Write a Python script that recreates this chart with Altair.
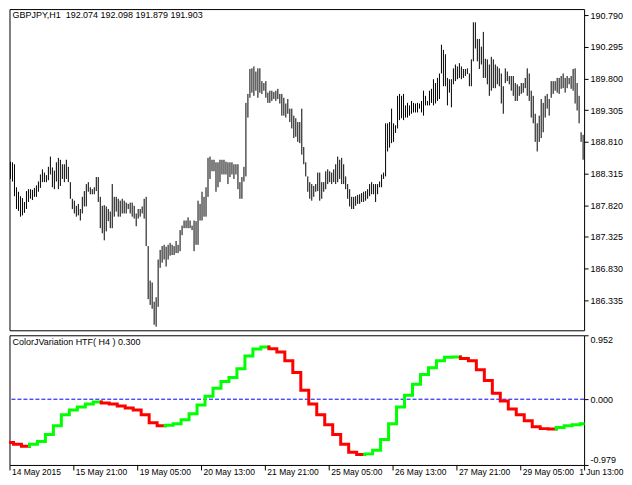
import altair as alt
import pandas as pd

header_text = "GBPJPY,H1\u00a0 192.074 192.098 191.879 191.903"
indicator_text = "ColorJVariation HTF( H4 ) 0.300"

date_labels = ["14 May 2015", "15 May 21:00", "19 May 05:00", "20 May 13:00", "21 May 21:00",
               "25 May 05:00", "26 May 13:00", "27 May 21:00", "29 May 05:00", "1 Jun 13:00"]

price_ticks = [186.335, 186.830, 187.325, 187.820, 188.315, 188.810, 189.305, 189.800, 190.295, 190.790]
price_domain = [185.863, 190.887]
ind_ticks = [-0.979, 0.000, 0.952]
ind_domain = [-0.979, 0.952]
zero_level = [0.0]

highs = [
    188.50, 188.49, 188.46, 188.10, 188.03, 187.96, 187.93, 187.87, 188.04, 188.07,
    188.07, 188.06, 188.09, 188.13, 188.19, 188.30, 188.38, 188.33, 188.29, 188.42,
    188.58, 188.41, 188.36, 188.49, 188.56, 188.53, 188.46, 188.46, 188.53, 188.42,
    188.18, 187.92, 187.89, 187.81, 187.84, 187.76, 187.95, 188.04, 188.15, 188.18,
    188.10, 188.07, 188.10, 188.26, 188.26, 187.95, 187.81, 187.82, 187.80, 187.76,
    187.72, 188.15, 187.95, 187.95, 187.92, 187.89, 187.92, 187.89, 187.86, 187.84,
    187.86, 187.86, 187.81, 187.69, 187.76, 187.76, 187.80, 187.92, 187.95, 187.18,
    186.64, 186.61, 186.31, 186.38, 186.97, 187.12, 187.18, 187.20, 187.17, 187.20,
    187.23, 187.20, 187.18, 187.26, 187.20, 187.43, 187.50, 187.58, 187.58, 187.63,
    187.58, 187.50, 187.58, 187.57, 187.89, 187.84, 188.03, 187.95, 188.10, 188.56,
    188.58, 188.53, 188.53, 188.49, 188.49, 188.53, 188.53, 188.53, 188.50, 188.49,
    188.49, 188.49, 188.46, 188.46, 188.46, 188.18, 188.26, 188.42, 189.42, 189.56,
    189.95, 189.96, 189.99, 189.91, 189.96, 189.96, 189.76, 189.73, 189.76, 189.58,
    189.61, 189.61, 189.59, 189.61, 189.64, 189.56, 189.56, 189.50, 189.41, 189.48,
    189.33, 189.33, 189.22, 189.18, 189.12, 189.12, 189.33, 188.73, 188.49, 188.27,
    188.18, 188.15, 188.12, 188.15, 188.33, 188.33, 188.18, 188.18, 188.35, 188.38,
    188.35, 188.33, 188.38, 188.46, 188.58, 188.53, 188.56, 188.46, 188.27, 188.15,
    188.07, 187.95, 187.95, 187.96, 187.98, 187.99, 188.01, 188.03, 188.04, 188.07,
    188.15, 188.18, 188.15, 188.15, 188.15, 188.19, 188.30, 188.33, 189.10, 189.10,
    189.12, 189.33, 189.10, 189.07, 189.53, 189.56, 189.53, 189.56, 189.38, 189.42,
    189.38, 189.45, 189.42, 189.41, 189.42, 189.41, 189.45, 189.61, 189.53, 189.45,
    189.61, 189.64, 189.79, 189.73, 189.81, 189.88, 190.33, 190.25, 190.18, 189.81,
    189.79, 189.79, 189.96, 190.02, 189.99, 190.04, 189.99, 189.95, 189.95, 189.96,
    189.88, 190.10, 190.68, 190.68, 190.42, 190.42, 190.30, 190.53, 190.11, 190.10,
    190.02, 190.14, 190.10, 190.02, 189.99, 189.96, 189.88, 189.68, 189.96, 189.91,
    189.84, 189.84, 189.84, 189.73, 189.71, 189.68, 189.73, 189.73, 189.81, 189.96,
    189.88, 189.61, 189.53, 189.25, 189.10, 189.22, 189.48, 189.42, 189.53, 189.56,
    189.48, 189.76, 189.76, 189.76, 189.81, 189.81, 189.84, 189.88, 189.81, 189.84,
    189.81, 189.84, 189.95, 189.96, 189.73, 189.53, 188.96, 188.92,
]

lows = [
    188.23, 188.19, 187.96, 187.76, 187.73, 187.64, 187.66, 187.70, 187.76, 187.87,
    187.92, 187.90, 187.95, 187.95, 188.03, 188.09, 188.18, 188.18, 188.18, 188.21,
    188.30, 188.10, 188.07, 188.19, 188.07, 188.12, 188.23, 188.18, 188.23, 188.18,
    187.92, 187.76, 187.69, 187.64, 187.66, 187.58, 187.69, 187.80, 187.80, 188.03,
    187.99, 187.99, 187.99, 188.04, 187.87, 187.46, 187.38, 187.27, 187.41, 187.57,
    187.46, 187.46, 187.64, 187.72, 187.64, 187.64, 187.69, 187.69, 187.69, 187.76,
    187.69, 187.64, 187.61, 187.49, 187.61, 187.64, 187.69, 187.61, 187.18, 186.35,
    186.26, 186.20, 185.95, 185.92, 186.23, 186.84, 186.92, 186.97, 186.86, 186.97,
    187.03, 187.04, 187.04, 187.07, 187.07, 187.10, 187.35, 187.46, 187.46, 187.46,
    187.46, 187.43, 187.10, 187.20, 187.20, 187.58, 187.58, 187.64, 187.64, 187.95,
    188.23, 188.35, 188.35, 188.03, 188.10, 188.18, 188.30, 188.30, 188.30, 188.15,
    188.26, 188.30, 188.23, 188.30, 188.07, 187.92, 187.92, 188.19, 188.27, 189.19,
    189.50, 189.58, 189.53, 189.61, 189.50, 189.58, 189.56, 189.61, 189.50, 189.42,
    189.42, 189.45, 189.48, 189.45, 189.48, 189.41, 189.22, 189.22, 189.19, 189.25,
    189.12, 189.02, 188.87, 188.89, 188.81, 188.79, 188.61, 188.46, 188.27, 188.03,
    187.92, 187.89, 187.95, 188.03, 188.04, 187.89, 187.92, 188.03, 188.07, 188.15,
    188.18, 188.15, 188.18, 188.15, 188.18, 188.23, 188.15, 188.15, 188.07, 187.92,
    187.80, 187.76, 187.76, 187.81, 187.84, 187.84, 187.87, 187.87, 187.89, 187.92,
    187.96, 187.99, 187.99, 187.87, 187.99, 188.10, 188.10, 188.23, 188.27, 188.66,
    188.72, 188.79, 188.81, 188.95, 189.02, 189.15, 189.18, 189.15, 189.19, 189.19,
    189.22, 189.25, 189.27, 189.27, 189.27, 189.33, 189.27, 189.22, 189.38, 189.38,
    189.38, 189.42, 189.38, 189.41, 189.45, 189.48, 189.88, 189.68, 189.68, 189.38,
    189.58, 189.35, 189.71, 189.76, 189.79, 189.81, 189.79, 189.81, 189.84, 189.87,
    189.68, 189.68, 190.07, 190.27, 190.07, 189.95, 190.02, 189.81, 189.81, 189.71,
    189.53, 189.61, 189.65, 189.65, 189.71, 189.68, 189.41, 189.25, 189.73, 189.76,
    189.71, 189.61, 189.53, 189.45, 189.45, 189.53, 189.56, 189.58, 189.65, 189.53,
    189.45, 189.19, 189.10, 188.81, 188.66, 188.81, 188.87, 188.96, 189.19, 189.33,
    189.22, 189.50, 189.56, 189.61, 189.58, 189.56, 189.64, 189.65, 189.58, 189.65,
    189.71, 189.64, 189.61, 189.41, 189.30, 189.10, 188.81, 188.53,
]

# ColorJVariation HTF(H4) values, one per H4 bar (4 H1 bars each)
htf = [
    -0.643, -0.672, -0.701, -0.672, -0.628, -0.526, -0.394, -0.233, -0.160, -0.116, -0.072, -0.043,
    -0.055, -0.072, -0.101, -0.131, -0.160, -0.233, -0.350, -0.394,
    -0.388, -0.365, -0.306, -0.218, -0.087, 0.045, 0.162, 0.264, 0.323, 0.455, 0.645, 0.747, 0.776,
    0.752, 0.703, 0.572, 0.396, 0.133, -0.072, -0.233, -0.379, -0.526, -0.672, -0.789, -0.825,
    -0.814, -0.760, -0.599, -0.365, -0.116, 0.060, 0.221, 0.367, 0.469, 0.572, 0.623, 0.630,
    0.605, 0.572, 0.440, 0.279, 0.089, -0.028, -0.145, -0.233, -0.321, -0.409, -0.438, -0.445,
    -0.423, -0.394, -0.379, -0.365,
]

n_bars = len(highs)
bars = pd.DataFrame({"u": list(range(n_bars)), "high": highs, "low": lows})

# each H4 value spans 4 H1 bars; build the stepped, colour-split polyline
starts = [0] + [4 * k - 2.5 for k in range(1, len(htf))]
ends = starts[1:] + [n_bars - 1]
rows = []
run = 0
prev = None
for k, v in enumerate(htf):
    d = "up" if (k > 0 and v > htf[k - 1]) else "down"
    if d != prev:
        run += 1
    prev = d
    if k > 0:
        rows.append({"run": run, "dir": d, "u": starts[k], "v": htf[k - 1]})
    rows.append({"run": run, "dir": d, "u": starts[k], "v": v})
    rows.append({"run": run, "dir": d, "u": ends[k], "v": v})
ind = pd.DataFrame(rows)
ind["o"] = list(range(len(ind)))

W = 576
H1 = 322
H2 = 130
FONT = "Liberation Sans"
FS = 9

xscale = alt.Scale(domain=[-0.5, n_bars - 0.5], nice=False, zero=False)
label_pos = [32 * k - 0.5 for k in range(len(date_labels))]
label_expr = "[" + ",".join("'" + s + "'" for s in date_labels) + "][round((datum.value + 0.5) / 32)]"

price_axis = alt.Axis(orient="right", values=price_ticks, format=".3f", tickSize=4,
                      labelPadding=2, title=None, labelOverlap=False)

bar_layer = alt.Chart(bars).mark_rule(color="black", strokeWidth=1).encode(
    x=alt.X("u:Q", scale=xscale, axis=None),
    y=alt.Y("low:Q", scale=alt.Scale(domain=price_domain, nice=False, zero=False), axis=price_axis),
    y2="high:Q",
)

header = alt.Chart(pd.DataFrame({"t": [header_text]})).mark_text(
    align="left", baseline="top", font=FONT, fontSize=FS, color="black"
).encode(text="t:N", x=alt.value(3), y=alt.value(2))

top = alt.layer(bar_layer, header).properties(width=W, height=H1)

ind_scale = alt.Scale(domain=ind_domain, nice=False, zero=False)
ind_axis = alt.Axis(orient="right", values=ind_ticks, tickSize=4, labelPadding=2, title=None,
                    labelFlush=True, labelOverlap=False,
                    labelExpr="datum.value < 0 ? '-' + format(-datum.value, '.3f') : format(datum.value, '.3f')")

time_axis = alt.Axis(
    values=label_pos, labelExpr=label_expr, tickSize=5, labelPadding=-2, labelFontSize=8.5,
    labelAlign={"condition": {"test": "datum.value > 280", "value": "right"}, "value": "left"},
    labelOffset={"condition": {"test": "datum.value > 280", "value": 39}, "value": 2},
    labelBaseline="top", labelOverlap=False, labelFlush=False, labelBound=False, title=None,
)

zero_rule = alt.Chart(pd.DataFrame({"z": zero_level})).mark_rule(
    color="#0000FF", strokeDash=[4, 2], strokeWidth=1
).encode(y=alt.Y("z:Q", scale=ind_scale, axis=ind_axis))

ind_line = alt.Chart(ind).mark_line(strokeWidth=3, strokeCap="square", strokeJoin="miter").encode(
    x=alt.X("u:Q", scale=xscale, axis=time_axis),
    y=alt.Y("v:Q", scale=ind_scale, axis=ind_axis),
    color=alt.Color("dir:N", scale=alt.Scale(domain=["up", "down"], range=["#00FF00", "#FF0000"]), legend=None),
    detail="run:N",
    order="o:Q",
)

ind_title = alt.Chart(pd.DataFrame({"t": [indicator_text]})).mark_text(
    align="left", baseline="top", font=FONT, fontSize=FS, color="black"
).encode(text="t:N", x=alt.value(3), y=alt.value(3))

bottom = alt.layer(zero_rule, ind_line, ind_title).properties(width=W, height=H2)

chart = alt.vconcat(top, bottom, spacing=3).properties(
    padding={"left": -4.5, "top": -0.5, "right": 0, "bottom": 0}, background="white"
).configure_view(
    stroke="black", strokeWidth=1
).configure_axis(
    labelFont=FONT, labelFontSize=FS, labelColor="black", tickColor="black", tickWidth=1,
    grid=False, domain=False
)

chart.save("out.html", embed_options={"renderer": "svg", "actions": False})
